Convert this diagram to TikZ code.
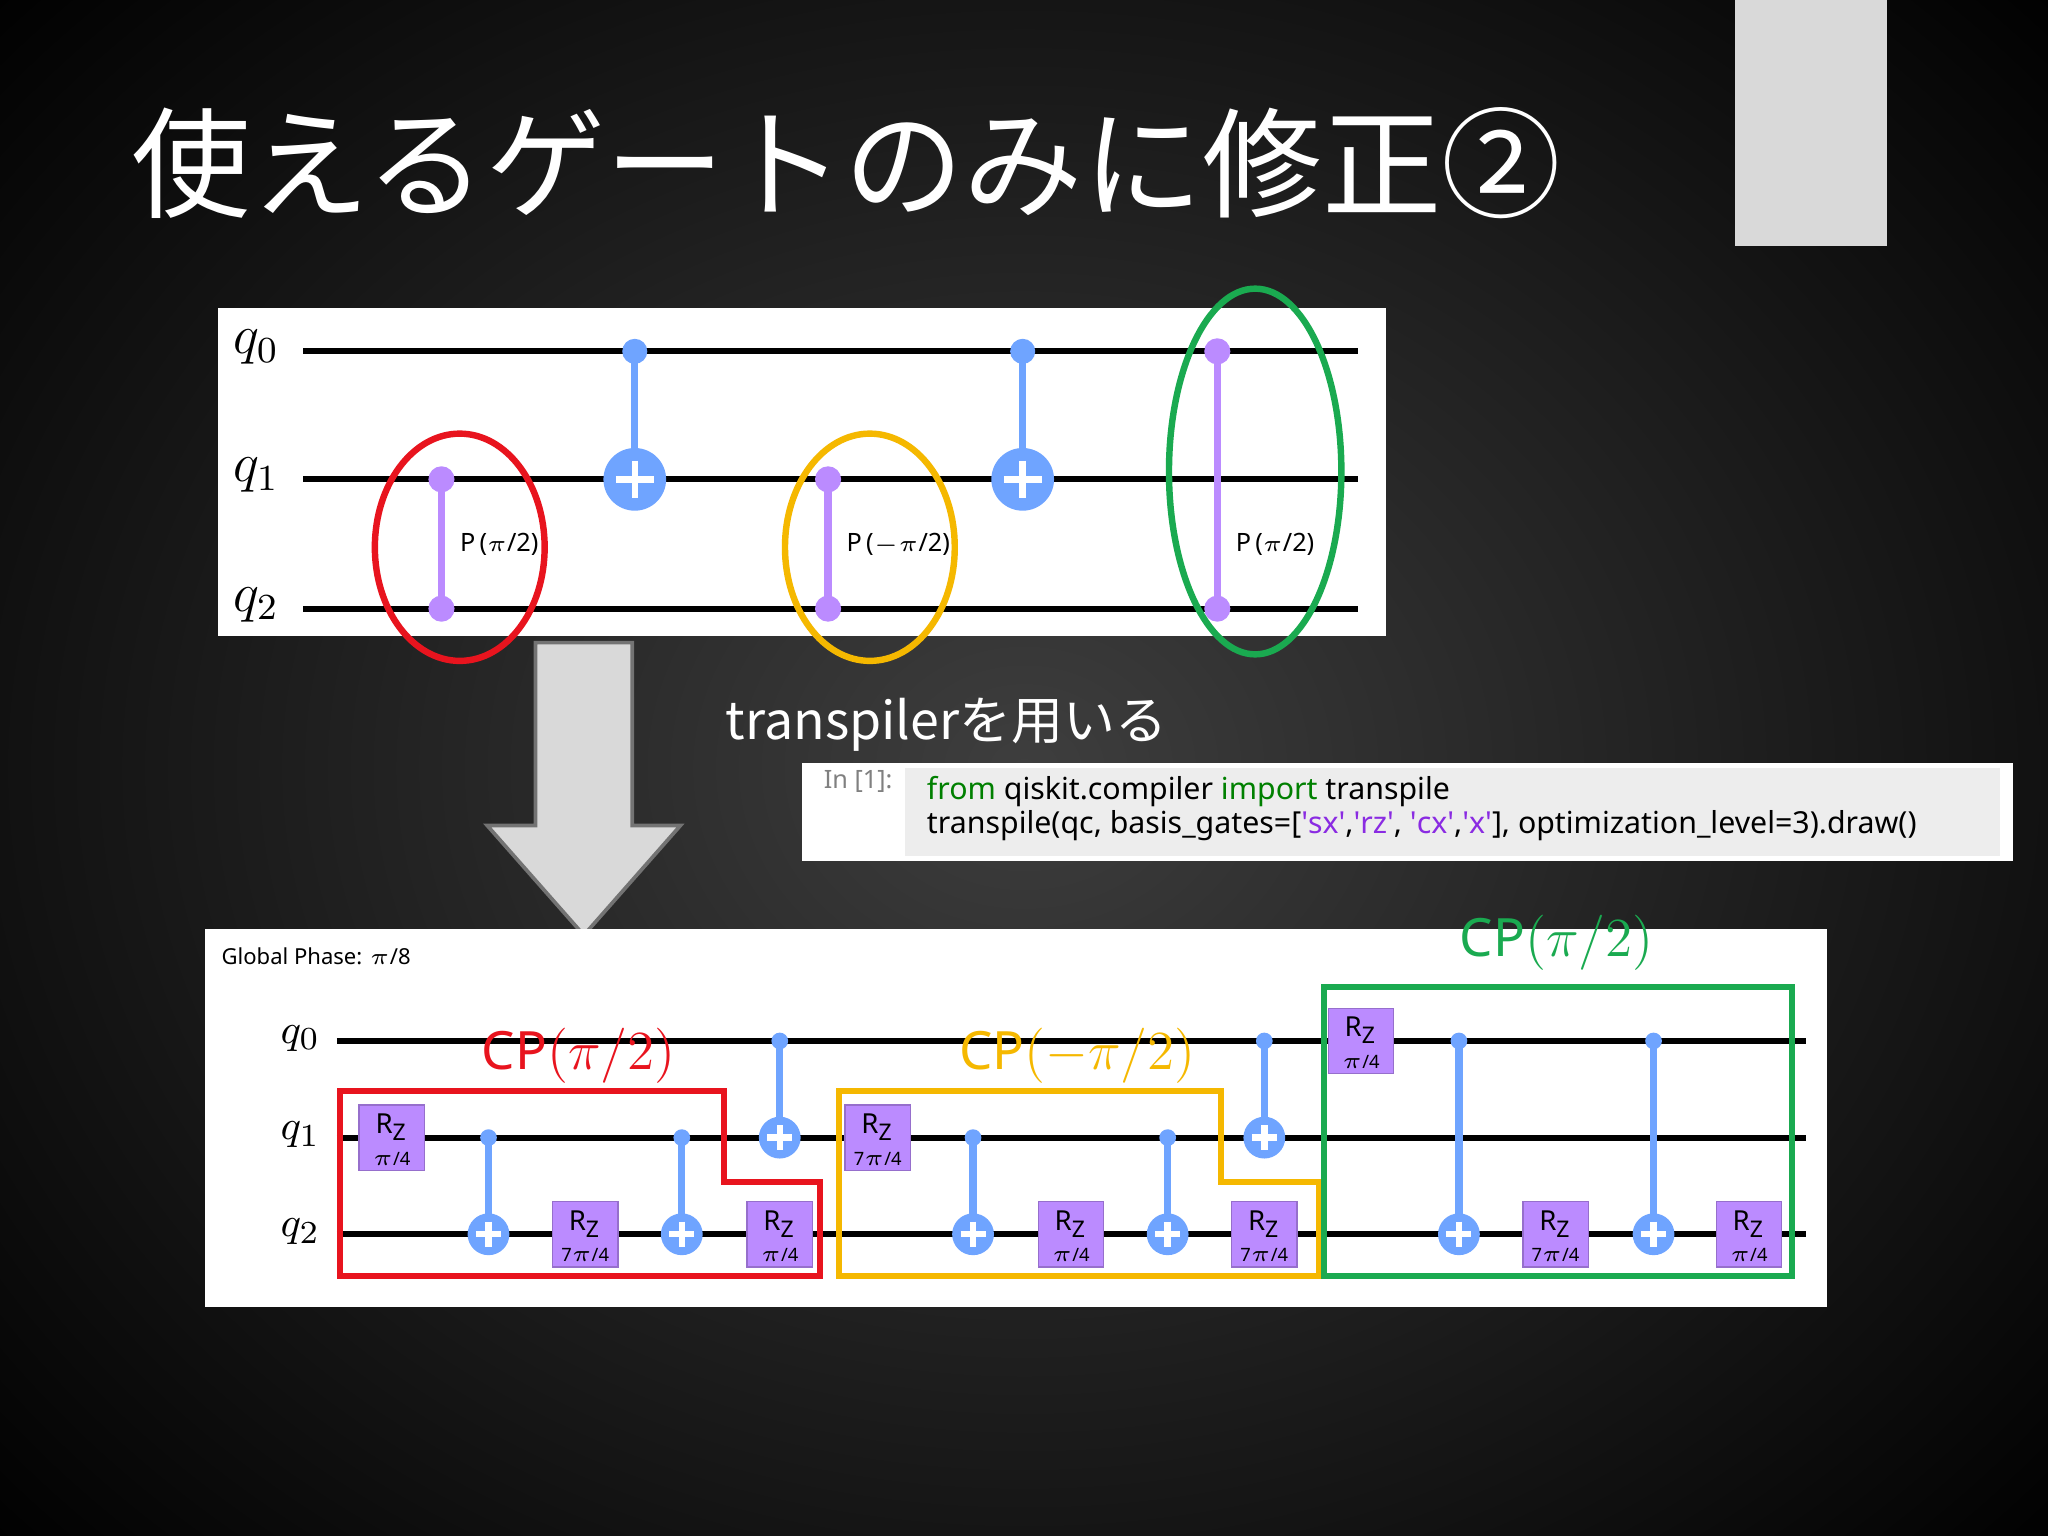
\documentclass[tikz,border=0pt]{standalone}
\usepackage{fontspec}
\setmainfont{Noto Sans}
\newfontfamily\jp{Noto Sans CJK JP}
\usetikzlibrary{shapes.geometric}
\definecolor{qblue}{HTML}{6FA4FF}
\definecolor{qpurp}{HTML}{BB8BFF}
\definecolor{qred}{HTML}{E8141E}
\definecolor{qyel}{HTML}{F5B800}
\definecolor{qgrn}{HTML}{1AAA50}
\definecolor{codegrn}{HTML}{008000}
\definecolor{codepur}{HTML}{8A2BE2}
\tikzset{
  wire/.style={line width=1.3pt,black},
  rz/.style={fill=qpurp,draw=qpurp!80!black,line width=0.3pt,minimum width=0.5cm,minimum height=0.5cm,inner sep=0pt},
  grp/.style={line width=1.3pt},
}
\newcommand{\q}{\textquotesingle}
\newcommand{\cxT}[4]{% x, yctrl, ytarget, radius
  \fill[qblue] (#1,#2) circle[radius=#4*0.4];
  \draw[qblue,line width=1.6pt] (#1,#2) -- (#1,#3);
  \fill[qblue] (#1,#3) circle[radius=#4];
  \draw[white,line width=1.4pt] (#1-#4*0.6,#3) -- (#1+#4*0.6,#3) (#1,#3-#4*0.6) -- (#1,#3+#4*0.6);}
\newcommand{\rzg}[3]{\node[rz] at (#1,#2) {};
  \node[font=\fontsize{6}{6}\selectfont,inner sep=0] at (#1,#2-8) {R$_{\mathrm{Z}}$};
  \node[font=\fontsize{4}{4}\selectfont,inner sep=0] at (#1,#2+16) {#3};}
\begin{document}
\begin{tikzpicture}[x=0.01cm,y=-0.01cm]
\useasboundingbox (0,0) rectangle (1568,1176);
\shade[inner color={rgb,255:red,62;green,62;blue,62},outer color=black] (-300,-300) rectangle (1868,1476);
\fill[black!15] (1328,0) rectangle (1445,188);
\node[anchor=base west,text=white,font=\jp\fontsize{26}{28}\selectfont,inner sep=0] (title) at (100,160) {使えるゲートのみに修正②};
% top panel
\fill[white] (167,236) rectangle (1061,487);
\foreach \y/\l in {269/0,367/1,466/2}{
  \draw[wire] (232,\y) -- (1040,\y);
  \node[font=\fontsize{12}{12}\selectfont] at (196,\y-3) {$q_{\l}$};}
\foreach \x/\ya/\yb/\lab in {338/367/466/{P\,($\pi$/2)},634/367/466/{P\,($-\pi$/2)},932/269/466/{P\,($\pi$/2)}}{
  \draw[qpurp,line width=1.6pt] (\x,\ya) -- (\x,\yb);
  \fill[qpurp] (\x,\ya) circle[radius=10] (\x,\yb) circle[radius=10];
  \node[anchor=west,font=\fontsize{5.5}{6}\selectfont,inner sep=1pt] at (\x+10,417) {\lab};}
\cxT{486}{269}{367}{24}
\cxT{783}{269}{367}{24}
\draw[qred,line width=1.4pt] (352,419) ellipse[x radius=65,y radius=87];
\draw[qyel,line width=1.4pt] (666,419) ellipse[x radius=65,y radius=87];
\draw[qgrn,line width=1.4pt] (961,361) ellipse[x radius=66,y radius=140];
% arrow
\draw[fill=black!15,draw=black!55,line width=0.8pt] (410,492) -- (484,492) -- (484,632) -- (521,632) -- (447,716) -- (373,632) -- (410,632) -- cycle;
\node[anchor=base west,text=white,font=\jp\fontsize{11.3}{13}\selectfont,inner sep=0] (tr) at (555,566) {transpilerを用いる};
% code cell
\fill[white] (614,584) rectangle (1541,659);
\fill[black!7] (693,588) rectangle (1531,655);
\node[anchor=north west,text=black!50,font=\fontsize{5.5}{6}\selectfont,inner sep=0] at (630,589) {In [1]:};
\node[anchor=west,font=\fontsize{6.6}{7}\selectfont,inner sep=0] at (709,606) {\textcolor{codegrn}{from} qiskit.compiler \textcolor{codegrn}{import} transpile};
\node[anchor=west,font=\fontsize{6.6}{7}\selectfont,inner sep=0] at (709,632) {transpile(qc, basis\_gates=[\textcolor{codepur}{\q sx\q},\textcolor{codepur}{\q rz\q}, \textcolor{codepur}{\q cx\q},\textcolor{codepur}{\q x\q}], optimization\_level=3).draw()};
% bottom panel
\fill[white] (157,711) rectangle (1399,1001);
\node[anchor=west,font=\fontsize{4.8}{5}\selectfont,inner sep=0] at (169,732) {Global Phase: $\pi$/8};
\foreach \y/\l in {797/0,871/1,945/2}{
  \draw[wire] (258,\y) -- (1383,\y);
  \node[font=\fontsize{9.5}{10}\selectfont] at (230,\y-2) {$q_{\l}$};}
\cxT{374}{871}{945}{16}
\cxT{522}{871}{945}{16}
\cxT{745}{871}{945}{16}
\cxT{894}{871}{945}{16}
\cxT{597}{797}{871}{16}
\cxT{968}{797}{871}{16}
\cxT{1117}{797}{945}{16}
\cxT{1266}{797}{945}{16}
\rzg{300}{871}{$\pi$/4}
\rzg{448}{945}{7$\pi$/4}
\rzg{597}{945}{$\pi$/4}
\rzg{672}{871}{7$\pi$/4}
\rzg{820}{945}{$\pi$/4}
\rzg{968}{945}{7$\pi$/4}
\rzg{1042}{797}{$\pi$/4}
\rzg{1191}{945}{7$\pi$/4}
\rzg{1339}{945}{$\pi$/4}
\draw[grp,qred] (260,835) -- (554,835) -- (554,905) -- (628,905) -- (628,977) -- (260,977) -- cycle;
\draw[grp,qyel] (642,835) -- (935,835) -- (935,905) -- (1010,905) -- (1010,977) -- (642,977) -- cycle;
\draw[grp,qgrn] (1014,756) rectangle (1372,977);
\node[text=qred,font=\fontsize{11.5}{12}\selectfont] at (443,808) {CP$(\pi/2)$};
\node[text=qyel,font=\fontsize{11.5}{12}\selectfont] at (825,808) {CP$(-\pi/2)$};
\node[text=qgrn,font=\fontsize{11.5}{12}\selectfont] at (1192,722) {CP$(\pi/2)$};
\end{tikzpicture}
\end{document}
